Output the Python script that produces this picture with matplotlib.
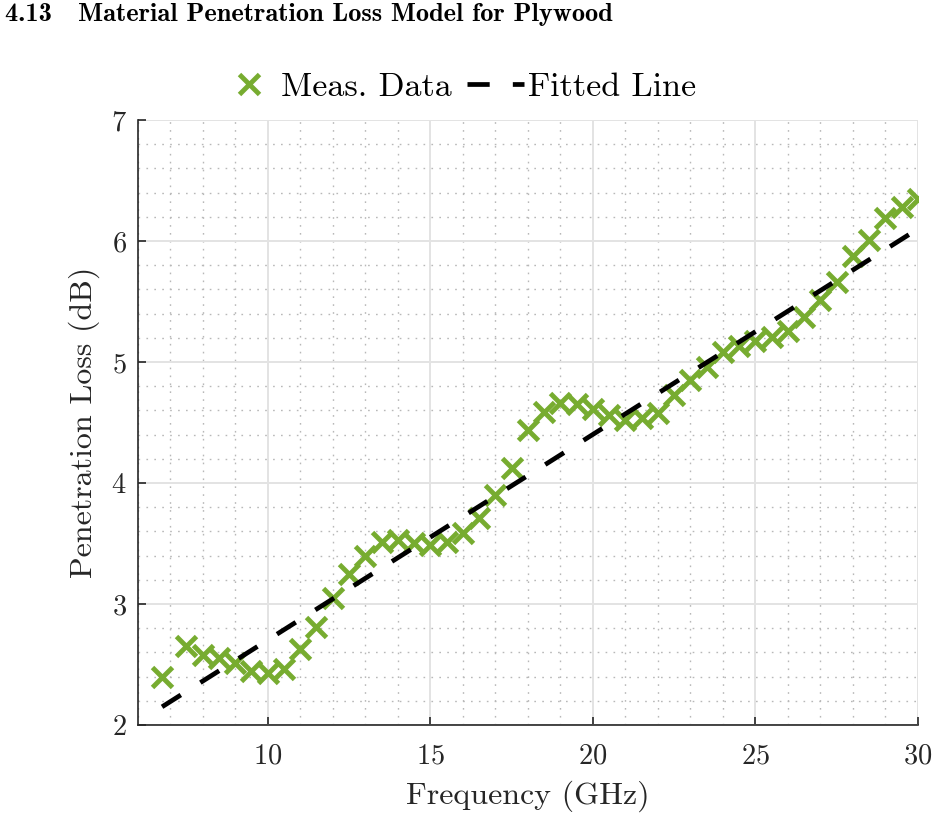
import matplotlib
matplotlib.use("Agg")
import matplotlib.pyplot as plt
from matplotlib.ticker import MultipleLocator

plt.rcParams["font.family"] = "serif"
plt.rcParams["font.serif"] = ["cmr10", "DejaVu Serif"]
plt.rcParams["mathtext.fontset"] = "cm"
plt.rcParams["axes.formatter.use_mathtext"] = True

# measured penetration loss of plywood
freq_ghz = [6.75, 7.5, 8.0, 8.5, 9.0, 9.5, 10.0, 10.5, 11.0, 11.5, 12.0,
            12.5, 13.0, 13.5, 14.0, 14.5, 15.0, 15.5, 16.0, 16.5, 17.0,
            17.5, 18.0, 18.5, 19.0, 19.5, 20.0, 20.5, 21.0, 21.5, 22.0,
            22.5, 23.0, 23.5, 24.0, 24.5, 25.0, 25.5, 26.0, 26.5, 27.0,
            27.5, 28.0, 28.5, 29.0, 29.5, 30.0]
loss_db = [2.40, 2.65, 2.58, 2.55, 2.51, 2.45, 2.43, 2.46, 2.63, 2.81, 3.05,
           3.25, 3.40, 3.51, 3.53, 3.50, 3.49, 3.51, 3.59, 3.71, 3.90,
           4.12, 4.44, 4.59, 4.66, 4.65, 4.61, 4.56, 4.52, 4.54, 4.58,
           4.73, 4.85, 4.96, 5.08, 5.13, 5.17, 5.21, 5.26, 5.37, 5.51,
           5.66, 5.88, 6.01, 6.19, 6.28, 6.35]

# fitted line end points
fit_freq = [6.75, 30.0]
fit_loss = [2.15, 6.10]

green = "#77AC30"
dark = "#262626"

fig = plt.figure(figsize=(9.41, 8.23), dpi=100)
ax = fig.add_axes([0.1463, 0.1191, 0.8292, 0.7351])

ax.plot(freq_ghz, loss_db, linestyle="none", marker="x", markersize=14.5,
        markeredgewidth=3.5, color=green, label="Meas. Data", zorder=3)
ax.plot(fit_freq, fit_loss, color="black", linewidth=3.4,
        dashes=(4.7, 4.9), dash_capstyle="butt", label="Fitted Line", zorder=4)

ax.set_xlim(6, 30)
ax.set_ylim(2, 7)
ax.xaxis.set_major_locator(MultipleLocator(5))
ax.xaxis.set_minor_locator(MultipleLocator(1))
ax.yaxis.set_major_locator(MultipleLocator(1))
ax.yaxis.set_minor_locator(MultipleLocator(0.2))

ax.grid(which="major", color="#e3e3e3", linewidth=1.4)
ax.grid(which="minor", color="#b8b8b8", linewidth=1.0, linestyle=(0, (1.2, 4.5)))
ax.set_axisbelow(True)

for side in ["top", "right"]:
    ax.spines[side].set_visible(False)
for side in ["left", "bottom"]:
    ax.spines[side].set_color(dark)
    ax.spines[side].set_linewidth(1.2)

ax.tick_params(which="major", direction="in", length=6, width=1.2,
               colors=dark, labelsize=20.5, pad=8)
ax.tick_params(axis="x", which="major", pad=13)
ax.tick_params(which="minor", length=0)

ax.set_xlabel("Frequency (GHz)", fontsize=23, color=dark, labelpad=8)
ax.set_ylabel("Penetration Loss (dB)", fontsize=23, color=dark, labelpad=8)

fig.legend(loc="center", bbox_to_anchor=(0.487, 0.894), ncol=2, frameon=False,
           fontsize=24.5, handlelength=1.68, handletextpad=0.12,
           columnspacing=0.44, borderpad=0.2)

fig.text(0.005, 0.982, "4.13   Material Penetration Loss Model for Plywood",
         fontsize=19, fontweight="bold", family=["cmb10", "DejaVu Serif"],
         va="center", ha="left")

fig.savefig("out.png", dpi=100)
